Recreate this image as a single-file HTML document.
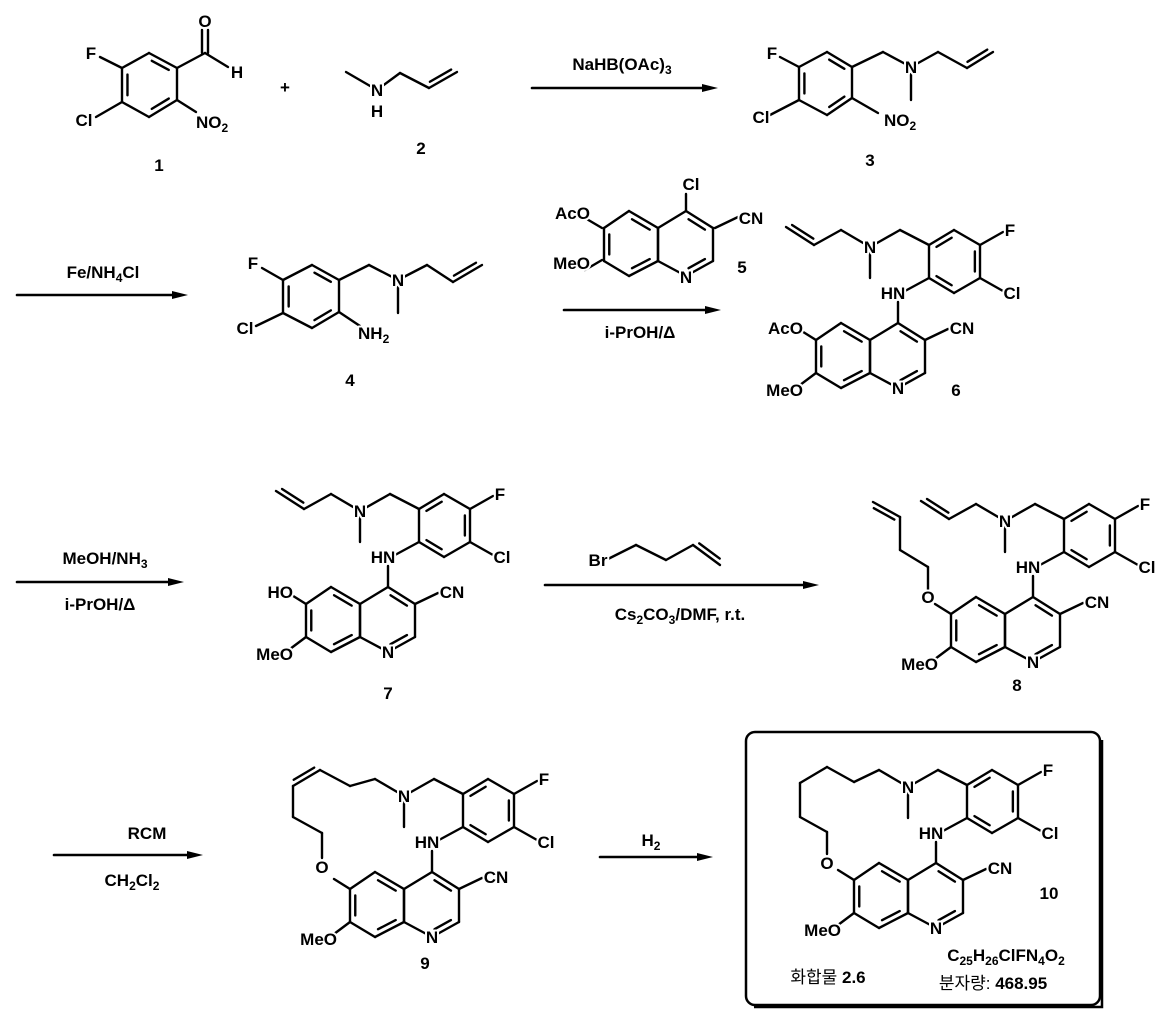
<!DOCTYPE html>
<html><head><meta charset="utf-8">
<style>
html,body{margin:0;padding:0;background:#fff;}
svg{display:block;}
text{font-family:"Liberation Sans",Arial,sans-serif;font-weight:bold;font-size:17px;fill:#000;stroke:#fff;stroke-width:4px;paint-order:stroke;stroke-linejoin:round;}
text.r{stroke-width:0;}
text.k{font-family:"Liberation Sans","Noto Sans CJK KR",sans-serif;font-weight:normal;stroke-width:0;}
tspan.s{font-size:12px;}
</style></head>
<body>
<svg id="s" width="1173" height="1024" viewBox="0 0 1173 1024" xmlns="http://www.w3.org/2000/svg">
<g id="lines" stroke="#000" stroke-width="2.4" stroke-linecap="round" fill="none"></g>
<rect x="746" y="732" width="354" height="273" rx="9" fill="none" stroke="#000" stroke-width="2.5"/>
<path d="M1102 740 L1102 1007 L754 1007" fill="none" stroke="#000" stroke-width="2.5"/>
<g fill="#000">
<polygon points="718,88 702,84 702,92"/>
<polygon points="188,295 172,291 172,299"/>
<polygon points="721,310 705,306 705,314"/>
<polygon points="184,582 168,578 168,586"/>
<polygon points="819,585 803,581 803,589"/>
<polygon points="203,855 187,851 187,859"/>
<polygon points="713,857 697,853 697,861"/>
</g>
<g id="txt">
<text x="205" y="27" text-anchor="middle">O</text>
<text x="237" y="78" text-anchor="middle">H</text>
<text x="91" y="59" text-anchor="middle">F</text>
<text x="84" y="126" text-anchor="middle">Cl</text>
<text x="196" y="128">NO<tspan class="s" dy="4">2</tspan></text>
<text class="r" x="159" y="171" text-anchor="middle">1</text>
<text class="r" x="285" y="93" text-anchor="middle">+</text>
<text x="377" y="96" text-anchor="middle">N</text>
<text x="377" y="117" text-anchor="middle">H</text>
<text class="r" x="421" y="154" text-anchor="middle">2</text>
<text class="r" x="622" y="70" text-anchor="middle">NaHB(OAc)<tspan class="s" dy="4">3</tspan></text>
<text x="772" y="59" text-anchor="middle">F</text>
<text x="761" y="123" text-anchor="middle">Cl</text>
<text x="911" y="73" text-anchor="middle">N</text>
<text x="884" y="126">NO<tspan class="s" dy="4">2</tspan></text>
<text class="r" x="870" y="166" text-anchor="middle">3</text>
<text class="r" x="103" y="278" text-anchor="middle">Fe/NH<tspan class="s" dy="4">4</tspan><tspan dy="-4">Cl</tspan></text>
<text x="253" y="269" text-anchor="middle">F</text>
<text x="245" y="334" text-anchor="middle">Cl</text>
<text x="398" y="286" text-anchor="middle">N</text>
<text x="358" y="339">NH<tspan class="s" dy="4">2</tspan></text>
<text class="r" x="350" y="386" text-anchor="middle">4</text>
<text x="691" y="190" text-anchor="middle">Cl</text>
<text x="751" y="224" text-anchor="middle">CN</text>
<text x="686" y="283" text-anchor="middle">N</text>
<text x="590" y="219" text-anchor="end">AcO</text>
<text x="590" y="269" text-anchor="end">MeO</text>
<text class="r" x="742" y="273" text-anchor="middle">5</text>
<text class="r" x="640" y="338" text-anchor="middle">i-PrOH/Δ</text>
<g transform="translate(0,0)">
<text x="870" y="253" text-anchor="middle">N</text>
<text x="893" y="299" text-anchor="middle">HN</text>
<text x="1010" y="236" text-anchor="middle">F</text>
<text x="1012" y="299" text-anchor="middle">Cl</text>
<text x="962" y="334" text-anchor="middle">CN</text>
<text x="898" y="394" text-anchor="middle">N</text>
<text x="803" y="396" text-anchor="end">MeO</text>
<text x="803" y="334" text-anchor="end">AcO</text>
<text class="r" x="956" y="396" text-anchor="middle">6</text>
</g>
<text class="r" x="105" y="564" text-anchor="middle">MeOH/NH<tspan class="s" dy="4">3</tspan></text>
<text class="r" x="100" y="610" text-anchor="middle">i-PrOH/Δ</text>
<g transform="translate(-510,264)">
<text x="870" y="253" text-anchor="middle">N</text>
<text x="893" y="299" text-anchor="middle">HN</text>
<text x="1010" y="236" text-anchor="middle">F</text>
<text x="1012" y="299" text-anchor="middle">Cl</text>
<text x="962" y="334" text-anchor="middle">CN</text>
<text x="898" y="394" text-anchor="middle">N</text>
<text x="803" y="396" text-anchor="end">MeO</text>
<text x="803" y="334" text-anchor="end">HO</text>
</g>
<text class="r" x="388" y="699" text-anchor="middle">7</text>
<text x="598" y="566" text-anchor="middle">Br</text>
<text class="r" x="680" y="620" text-anchor="middle">Cs<tspan class="s" dy="4">2</tspan><tspan dy="-4">CO</tspan><tspan class="s" dy="4">3</tspan><tspan dy="-4">/DMF, r.t.</tspan></text>
<g transform="translate(135,274)">
<text x="870" y="253" text-anchor="middle">N</text>
<text x="893" y="299" text-anchor="middle">HN</text>
<text x="1010" y="236" text-anchor="middle">F</text>
<text x="1012" y="299" text-anchor="middle">Cl</text>
<text x="962" y="334" text-anchor="middle">CN</text>
<text x="898" y="394" text-anchor="middle">N</text>
<text x="803" y="396" text-anchor="end">MeO</text>
</g>
<text x="928" y="603" text-anchor="middle">O</text>
<text class="r" x="1017" y="691" text-anchor="middle">8</text>
<text class="r" x="147" y="839" text-anchor="middle">RCM</text>
<text class="r" x="132" y="886" text-anchor="middle">CH<tspan class="s" dy="4">2</tspan><tspan dy="-4">Cl</tspan><tspan class="s" dy="4">2</tspan></text>
<g transform="translate(-466,549)">
<text x="870" y="253" text-anchor="middle">N</text>
<text x="893" y="299" text-anchor="middle">HN</text>
<text x="1010" y="236" text-anchor="middle">F</text>
<text x="1012" y="299" text-anchor="middle">Cl</text>
<text x="962" y="334" text-anchor="middle">CN</text>
<text x="898" y="394" text-anchor="middle">N</text>
<text x="803" y="396" text-anchor="end">MeO</text>
</g>
<text x="322" y="873" text-anchor="middle">O</text>
<text class="r" x="425" y="969" text-anchor="middle">9</text>
<text class="r" x="651" y="846" text-anchor="middle">H<tspan class="s" dy="4">2</tspan></text>
<g transform="translate(38,540)">
<text x="870" y="253" text-anchor="middle">N</text>
<text x="893" y="299" text-anchor="middle">HN</text>
<text x="1010" y="236" text-anchor="middle">F</text>
<text x="1012" y="299" text-anchor="middle">Cl</text>
<text x="962" y="334" text-anchor="middle">CN</text>
<text x="898" y="394" text-anchor="middle">N</text>
<text x="803" y="396" text-anchor="end">MeO</text>
</g>
<text x="827" y="869" text-anchor="middle">O</text>
<text class="r" x="1049" y="899" text-anchor="middle">10</text>
<text class="r" x="1006" y="961" text-anchor="middle">C<tspan class="s" dy="4">25</tspan><tspan dy="-4">H</tspan><tspan class="s" dy="4">26</tspan><tspan dy="-4">ClFN</tspan><tspan class="s" dy="4">4</tspan><tspan dy="-4">O</tspan><tspan class="s" dy="4">2</tspan></text>
<text class="k" x="993" y="989" text-anchor="middle">분자량: <tspan font-weight="bold">468.95</tspan></text>
<text class="k" x="828" y="983" text-anchor="middle">화합물 <tspan font-weight="bold">2.6</tspan></text>
</g>
</svg>
<script>
(function(){
var g=document.getElementById('lines'),NS='http://www.w3.org/2000/svg';
var svg=document.getElementById('s');svg.insertBefore(g,svg.firstChild);
function ln(a,b,c,d,w){var e=document.createElementNS(NS,'line');e.setAttribute('x1',a);e.setAttribute('y1',b);e.setAttribute('x2',c);e.setAttribute('y2',d);if(w)e.setAttribute('stroke-width',w);g.appendChild(e);}
function P(pts,dx,dy){dx=dx||0;dy=dy||0;for(var i=0;i<pts.length-1;i++)ln(pts[i][0]+dx,pts[i][1]+dy,pts[i+1][0]+dx,pts[i+1][1]+dy);}
function ring(pts,dbl,dx,dy){dx=dx||0;dy=dy||0;var n=pts.length,cx=0,cy=0;pts.forEach(function(p){cx+=p[0];cy+=p[1];});cx/=n;cy/=n;
 P(pts.concat([pts[0]]),dx,dy);
 dbl.forEach(function(i){var p=pts[i],q=pts[(i+1)%n];
  var p1=[p[0]+(cx-p[0])*0.2,p[1]+(cy-p[1])*0.2],q1=[q[0]+(cx-q[0])*0.2,q[1]+(cy-q[1])*0.2];
  var a=[p1[0]+(q1[0]-p1[0])*0.12,p1[1]+(q1[1]-p1[1])*0.12],b=[q1[0]+(p1[0]-q1[0])*0.12,q1[1]+(p1[1]-q1[1])*0.12];
  ln(a[0]+dx,a[1]+dy,b[0]+dx,b[1]+dy);});}
function db(p,q,side,dx,dy){dx=dx||0;dy=dy||0;var vx=q[0]-p[0],vy=q[1]-p[1],L=Math.hypot(vx,vy);var nx=-vy/L*5*side,ny=vx/L*5*side;
 ln(p[0]+dx,p[1]+dy,q[0]+dx,q[1]+dy);ln(p[0]+nx+vx*0.12+dx,p[1]+ny+vy*0.12+dy,q[0]+nx-vx*0.12+dx,q[1]+ny-vy*0.12+dy);}
ln(532,88,706,88,2.6);ln(17,295,176,295,2.6);ln(564,310,709,310,2.6);ln(17,582,172,582,2.6);ln(545,585,807,585,2.6);ln(54,855,191,855,2.6);ln(600,857,701,857,2.6);
ring([[149,53],[177,68],[177,100],[149,117],[122,102],[122,68]],[0,2,4]);
P([[177,68],[205,53],[228,67]]);ln(202,53,202,30);ln(208,53,208,30);
P([[177,100],[196,112]]);P([[122,68],[100,57]]);P([[122,102],[96,117]]);
P([[346,72],[377,90],[400,73],[429,88]]);db([429,88],[457,72],-1);
ring([[827,52],[852,67],[852,98],[827,115],[799,100],[799,67]],[0,2,4]);
P([[852,67],[883,52],[911,67],[938,52],[967,68]]);db([967,68],[993,52],-1);ln(911,74,911,100);
P([[852,98],[878,113]]);P([[799,67],[780,57]]);P([[799,100],[770,115]]);
ring([[312,265],[339,280],[339,312],[312,328],[283,313],[283,280]],[0,2,4]);
P([[339,280],[369,265],[398,280],[427,265],[453,282]]);db([453,282],[482,265],-1);ln(398,287,398,313);
P([[339,312],[360,326]]);P([[283,280],[262,268]]);P([[283,313],[256,326]]);
function quin(o,dx,dy){
 ring([[o[0]+0,o[1]+0],[o[0]+28,o[1]-17],[o[0]+55,o[1]+0],[o[0]+55,o[1]+33],[o[0]+28,o[1]+48],[o[0]+0,o[1]+33]],[1,3],dx,dy);
 ring([[o[0]-29,o[1]-17],[o[0]+0,o[1]+0],[o[0]+0,o[1]+33],[o[0]-29,o[1]+48],[o[0]-54,o[1]+33],[o[0]-54,o[1]+0]],[0,2,4],dx,dy);
}
quin([658,228]);
ln(686,211,686,194);ln(715,228,738,217);ln(602,228,585,218);ln(602,260,585,270);
function core(dx,dy){
 ring([[929,245],[954,230],[980,245],[980,278],[954,293],[929,278]],[0,2,4],dx,dy);
 P([[929,245],[900,230],[870,247],[841,230]],dx,dy);ln(870+dx,252+dy,870+dx,278+dy);
 P([[980,245],[1003,232]],dx,dy);P([[980,278],[1003,291]],dx,dy);
 P([[929,278],[905,291]],dx,dy);P([[898,302],[898,323]],dx,dy);
 quin([870,340],dx,dy);
 P([[925,340],[948,329]],dx,dy);P([[816,373],[800,385]],dx,dy);
}
function allyl(dx,dy){P([[841,230],[814,245]],dx,dy);db([814,245],[786,227],1,dx,dy);}
core(0,0);allyl(0,0);ln(816,340,800,330);
core(-510,264);allyl(-510,264);ln(306,604,290,594);
core(135,274);allyl(135,274);ln(951,614,935,604);
P([[928,591],[928,567],[900,550],[900,517]]);db([900,517],[873,502],-1);
P([[608,559],[636,545],[666,560],[693,545]]);db([693,545],[720,565],-1);
core(-466,549);ln(350,889,334,879);
P([[322,858],[322,833],[293,817],[293,786]]);db([293,786],[320,770],-1);P([[320,770],[350,786],[375,779]]);
core(38,540);ln(854,880,838,870);
P([[827,854],[827,832],[800,817],[800,783],[827,767],[854,782],[879,770]]);
})();
</script>
</body></html>
